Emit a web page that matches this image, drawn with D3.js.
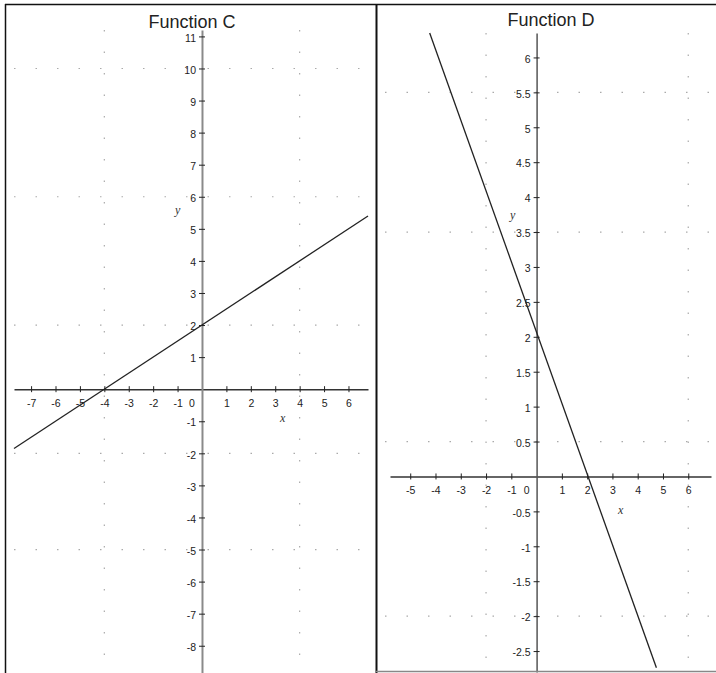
<!DOCTYPE html>
<html>
<head>
<meta charset="utf-8">
<script src="https://cdn.jsdelivr.net/npm/d3@7"></script>
<style>
  body { margin: 0; background: #fff; }
  svg { display: block; }
</style>
</head>
<body>
<svg id="chart" width="716" height="673"></svg>
<script>
// Function C: straight line through (-4, 0) and (0, 2)
const cXTicks = [-7, -6, -5, -4, -3, -2, -1, 1, 2, 3, 4, 5, 6];
const cYTicks = [11, 10, 9, 8, 7, 6, 5, 4, 3, 2, 1, -1, -2, -3, -4, -5, -6, -7, -8];
const cLine = [{ x: -7.7, y: -1.85 }, { x: 6.8, y: 5.4 }];
const cGridX = [-4, 4];
const cGridY = [10, 6, 2, -2, -5];

// Function D: falling line through (0, 2) and (2, 0)
const dXTicks = [-5, -4, -3, -2, -1, 1, 2, 3, 4, 5, 6];
const dYTicks = [6, 5.5, 5, 4.5, 4, 3.5, 3, 2.5, 2, 1.5, 1, 0.5, -0.5, -1, -1.5, -2, -2.5];
const dLine = [{ x: -4.23, y: 6.35 }, { x: 4.74, y: -2.74 }];
const dGridX = [-2, 6];
const dGridY = [5.5, 3.5, 0.5, -2];

const svg = d3.select("#chart");

const panels = [
  {
    title: "Function C", titleX: 192, titleY: 28,
    left: 6, right: 376,
    xDomain: [-7.7, 6.8], xRange: [14, 368],
    yDomain: [-8.85, 11.2], yRange: [673, 30],
    xTicks: cXTicks, yTicks: cYTicks, line: cLine,
    gridX: cGridX, gridY: cGridY,
    yAxisColor: "#8a8a8a", yAxisWidth: 2, xAxisColor: "#333", xAxisWidth: 1.4,
    yLabel: [175, 214], xLabel: [280, 422]
  },
  {
    title: "Function D", titleX: 551, titleY: 26,
    left: 377, right: 716,
    xDomain: [-5.8, 6.9], xRange: [390, 711],
    yDomain: [-2.8, 6.35], yRange: [672, 33],
    xTicks: dXTicks, yTicks: dYTicks, line: dLine,
    gridX: dGridX, gridY: dGridY,
    yAxisColor: "#555", yAxisWidth: 1.5, xAxisColor: "#333", xAxisWidth: 1.4,
    yLabel: [510, 219], xLabel: [618, 514]
  }
];

const tickFont = "Liberation Sans, Arial, sans-serif";

panels.forEach(p => {
  const x = d3.scaleLinear().domain(p.xDomain).range(p.xRange);
  const y = d3.scaleLinear().domain(p.yDomain).range(p.yRange);
  const g = svg.append("g");

  // sparse dotted grid
  g.selectAll(".gx").data(p.gridX).join("line")
    .attr("x1", d => x(d)).attr("x2", d => x(d))
    .attr("y1", y.range()[1]).attr("y2", y.range()[0])
    .attr("stroke", "#aaa").attr("stroke-width", 1.2)
    .attr("stroke-dasharray", "1.5,20");
  g.selectAll(".gy").data(p.gridY).join("line")
    .attr("x1", p.left + 8).attr("x2", p.right - 6)
    .attr("y1", d => y(d)).attr("y2", d => y(d))
    .attr("stroke", "#aaa").attr("stroke-width", 1.2)
    .attr("stroke-dasharray", "1.5,20");

  // x axis
  const xa = g.append("g")
    .attr("transform", `translate(0,${y(0)})`)
    .call(d3.axisBottom(x).tickValues(p.xTicks).tickSizeInner(3).tickSizeOuter(0)
      .tickFormat(d => String(d)));
  xa.select(".domain").attr("stroke", p.xAxisColor).attr("stroke-width", p.xAxisWidth);
  xa.selectAll(".tick line").attr("y1", -3).attr("y2", 3)
    .attr("stroke", "#222").attr("stroke-width", 1);
  xa.selectAll(".tick text").attr("y", 10)
    .attr("font-family", tickFont)
    .attr("font-size", 10.5).attr("fill", "#222");
  // origin label sits left of the y axis
  g.append("text")
    .attr("x", x(0) - 10).attr("y", y(0) + 10).attr("dy", "0.71em")
    .attr("text-anchor", "middle")
    .attr("font-family", tickFont)
    .attr("font-size", 10.5).attr("fill", "#222")
    .text("0");

  // y axis
  const ya = g.append("g")
    .attr("transform", `translate(${x(0)},0)`)
    .call(d3.axisLeft(y).tickValues(p.yTicks).tickSizeInner(3).tickSizeOuter(0)
      .tickFormat(d => String(d)));
  ya.select(".domain").attr("stroke", p.yAxisColor).attr("stroke-width", p.yAxisWidth);
  ya.selectAll(".tick line").attr("x1", 3).attr("x2", -3)
    .attr("stroke", "#222").attr("stroke-width", 1);
  ya.selectAll(".tick text").attr("x", -6).attr("dy", "0.45em")
    .attr("font-family", tickFont)
    .attr("font-size", 10.5).attr("fill", "#222");

  // axis names
  g.append("text").attr("x", p.yLabel[0]).attr("y", p.yLabel[1])
    .attr("font-family", "Liberation Serif, serif").attr("font-style", "italic")
    .attr("font-size", 12).attr("fill", "#333").text("y");
  g.append("text").attr("x", p.xLabel[0]).attr("y", p.xLabel[1])
    .attr("font-family", "Liberation Serif, serif").attr("font-style", "italic")
    .attr("font-size", 12).attr("fill", "#333").text("x");

  // function line
  g.append("path").datum(p.line)
    .attr("d", d3.line().x(d => x(d.x)).y(d => y(d.y)))
    .attr("fill", "none").attr("stroke", "#222").attr("stroke-width", 1.3);

  // title
  g.append("text")
    .attr("x", p.titleX).attr("y", p.titleY)
    .attr("text-anchor", "middle")
    .attr("font-family", "Liberation Sans, Arial, sans-serif")
    .attr("font-size", 18).attr("fill", "#222")
    .text(p.title);
});

// panel frames
const frame = svg.append("g").attr("stroke", "#111").attr("fill", "none");
frame.append("line").attr("x1", 5.5).attr("x2", 5.5).attr("y1", 4).attr("y2", 673).attr("stroke-width", 1.5);
frame.append("line").attr("x1", 5).attr("x2", 716).attr("y1", 4.5).attr("y2", 4.5).attr("stroke-width", 1.5);
frame.append("line").attr("x1", 376.5).attr("x2", 376.5).attr("y1", 4).attr("y2", 673).attr("stroke-width", 2);
frame.append("line").attr("x1", 376).attr("x2", 716).attr("y1", 671.5).attr("y2", 671.5)
  .attr("stroke", "#888").attr("stroke-width", 1.5);
</script>
</body>
</html>
